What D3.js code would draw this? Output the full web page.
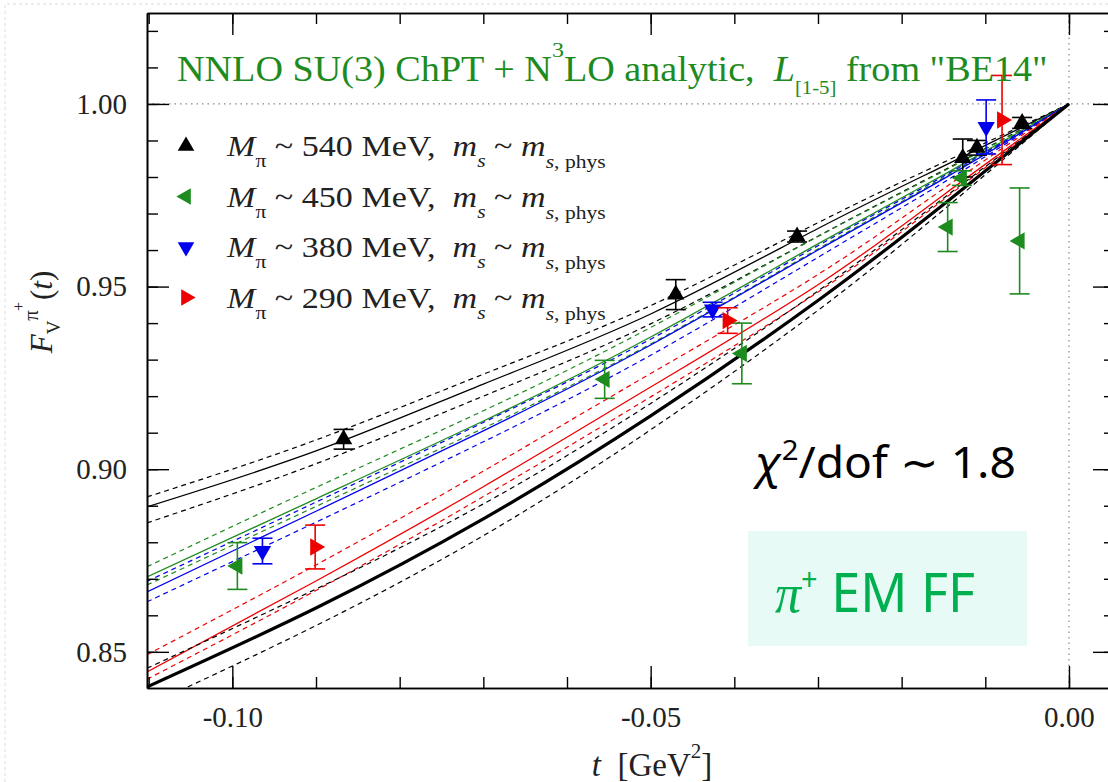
<!DOCTYPE html>
<html>
<head>
<meta charset="utf-8">
<script src="https://cdn.jsdelivr.net/npm/d3@7"></script>
<style>
  body { margin: 0; background: #fff; }
  text { white-space: pre; }
</style>
</head>
<body>
<svg id="chart" width="1108" height="782"></svg>
<script>
// t grid (GeV^2) the fit curves are read on
var tGrid = [-0.1102, -0.09, -0.07, -0.05, -0.03, -0.015, 0];

// fit curves: central value and error band edges
var fit540   = [0.8897, 0.9050, 0.9233, 0.9425, 0.9659, 0.9830, 1];
var fit540Hi = [0.8924, 0.9080, 0.9260, 0.9448, 0.9675, 0.9840, 1];
var fit540Lo = [0.8853, 0.9015, 0.9200, 0.9398, 0.9638, 0.9818, 1];
var fit450   = [0.8705, 0.8919, 0.9132, 0.9362, 0.9617, 0.9806, 1];
var fit450Hi = [0.8733, 0.8950, 0.9160, 0.9388, 0.9637, 0.9816, 1];
var fit450Lo = [0.8683, 0.8898, 0.9112, 0.9343, 0.9603, 0.9798, 1];
var fit380   = [0.8664, 0.8885, 0.9105, 0.9340, 0.9600, 0.9795, 1];
var fit380Hi = [0.8693, 0.8910, 0.9128, 0.9356, 0.9612, 0.9802, 1];
var fit380Lo = [0.8637, 0.8855, 0.9075, 0.9312, 0.9580, 0.9785, 1];
var fit290   = [0.8445, 0.8694, 0.8952, 0.9225, 0.9505, 0.9751, 1];
var fit290Hi = [0.8492, 0.8738, 0.8995, 0.9262, 0.9533, 0.9768, 1];
var fit290Lo = [0.8425, 0.8668, 0.8925, 0.9198, 0.9485, 0.9738, 1];
var fitPhys   = [0.8404, 0.8620, 0.8864, 0.9146, 0.9462, 0.9725, 1];
var fitPhysHi = [0.8455, 0.8672, 0.8905, 0.9180, 0.9488, 0.9742, 1];
var fitPhysLo = [0.8352, 0.8572, 0.8818, 0.9108, 0.9435, 0.9710, 1];

// lattice points: [t, F, error]
var pts540 = [[-0.0867, 0.9082, 0.0027], [-0.0470, 0.9478, 0.0041], [-0.0325, 0.9637, 0.0015],
              [-0.0127, 0.9852, 0.0052], [-0.0110, 0.9880, 0.0020], [-0.0056, 0.9948, 0.0015]];
var pts450 = [[-0.0994, 0.8735, 0.0064], [-0.0555, 0.9246, 0.0052], [-0.0391, 0.9317, 0.0083],
              [-0.0145, 0.9663, 0.0067], [-0.0128, 0.9797, 0.0020], [-0.0059, 0.9625, 0.0145]];
var pts380 = [[-0.0964, 0.8776, 0.0035], [-0.0426, 0.9437, 0.0020], [-0.0099, 0.9937, 0.0074]];
var pts290 = [[-0.0901, 0.8787, 0.0060], [-0.0408, 0.9407, 0.0035], [-0.0080, 0.9956, 0.0122]];

var legendLabels = ['540', '450', '380', '290'];
var xTickLabels = [-0.10, -0.05, 0.00];
var yTickLabels = [0.85, 0.90, 0.95, 1.00];

var GREEN = '#1e8b1e';
var serif = '"Liberation Serif", "DejaVu Serif", serif';

var svg = d3.select('#chart');

var x = d3.scaleLinear().domain([-0.1102, 0.0055]).range([147, 1115]);
var y = d3.scaleLinear().domain([0.8401, 1.0249]).range([688, 13]);

// faint slide border
svg.append('path').attr('d', 'M5,782V4H1108')
  .attr('fill', 'none').attr('stroke', '#dcdcdc').attr('stroke-dasharray', '3,3');

svg.append('clipPath').attr('id', 'plotclip')
  .append('rect').attr('x', 147).attr('y', 13).attr('width', 968).attr('height', 675);

// reference dotted lines
svg.append('line').attr('x1', x.range()[0]).attr('x2', x.range()[1]).attr('y1', y(1)).attr('y2', y(1))
  .attr('stroke', '#888').attr('stroke-width', 1.2).attr('stroke-dasharray', '1.5,4');
svg.append('line').attr('x1', x(0)).attr('x2', x(0)).attr('y1', y.range()[0]).attr('y2', y.range()[1])
  .attr('stroke', '#888').attr('stroke-width', 1.2).attr('stroke-dasharray', '1.5,4');

// curves
var line = d3.line().x(function(d) { return x(d[0]); }).y(function(d) { return y(d[1]); })
  .curve(d3.curveNatural);

var curves = [
  { v: fit540Hi, c: '#000', w: 1.2, dash: '5,4' },
  { v: fit540Lo, c: '#000', w: 1.2, dash: '5,4' },
  { v: fit540,   c: '#000', w: 1.3 },
  { v: fit450Hi, c: GREEN, w: 1.2, dash: '5,4' },
  { v: fit450Lo, c: GREEN, w: 1.2, dash: '5,4' },
  { v: fit450,   c: GREEN, w: 1.3 },
  { v: fit380Hi, c: '#0000ee', w: 1.2, dash: '5,4' },
  { v: fit380Lo, c: '#0000ee', w: 1.2, dash: '5,4' },
  { v: fit380,   c: '#0000ee', w: 1.3 },
  { v: fit290Hi, c: '#ee0000', w: 1.2, dash: '5,4' },
  { v: fit290Lo, c: '#ee0000', w: 1.2, dash: '5,4' },
  { v: fit290,   c: '#ee0000', w: 1.3 },
  { v: fitPhysHi, c: '#000', w: 1.2, dash: '5,4' },
  { v: fitPhysLo, c: '#000', w: 1.2, dash: '5,4' },
  { v: fitPhys,   c: '#000', w: 3.2 }
];

var curveG = svg.append('g').attr('clip-path', 'url(#plotclip)');
curves.forEach(function(cv) {
  curveG.append('path')
    .datum(tGrid.map(function(t, i) { return [t, cv.v[i]]; }))
    .attr('d', line)
    .attr('fill', 'none')
    .attr('stroke', cv.c)
    .attr('stroke-width', cv.w)
    .attr('stroke-dasharray', cv.dash || null);
});

// axes: ticks pointing inward on all four sides
function tickRange(a, b, step) {
  var out = [];
  for (var i = Math.round(a / step); i <= Math.round(b / step); i++) out.push(+(i * step).toFixed(4));
  return out;
}
var xMinor = tickRange(-0.11, 0.0, 0.01);
var yMinor = tickRange(0.85, 1.02, 0.01);
var yMajorAll = tickRange(0.85, 1.0, 0.05);
var fmt = function(d) { return d3.format('.2f')(d).replace('\u2212', '-'); };

function styleAxis(g) {
  g.select('.domain').attr('stroke', '#000').attr('stroke-width', 1.6);
  g.selectAll('.tick line').attr('stroke', '#000').attr('stroke-width', 1.4);
  g.selectAll('text').attr('font-family', serif).attr('font-size', 29).attr('fill', '#222');
}

svg.append('g').attr('transform', 'translate(0,688)')
  .call(d3.axisBottom(x).tickValues(xMinor).tickSize(-11).tickFormat('').tickSizeOuter(0)).call(styleAxis);
svg.append('g').attr('transform', 'translate(0,688)')
  .call(d3.axisBottom(x).tickValues(xTickLabels).tickSize(-22).tickPadding(18).tickSizeOuter(0)
    .tickFormat(fmt)).call(styleAxis);
svg.append('g').attr('transform', 'translate(0,13)')
  .call(d3.axisTop(x).tickValues(xMinor).tickSize(-11).tickFormat('').tickSizeOuter(0)).call(styleAxis);
svg.append('g').attr('transform', 'translate(0,13)')
  .call(d3.axisTop(x).tickValues(xTickLabels).tickSize(-22).tickFormat('').tickSizeOuter(0)).call(styleAxis);

svg.append('g').attr('transform', 'translate(147,0)')
  .call(d3.axisLeft(y).tickValues(yMinor).tickSize(-11).tickFormat('').tickSizeOuter(0)).call(styleAxis);
svg.append('g').attr('transform', 'translate(147,0)')
  .call(d3.axisLeft(y).tickValues(yTickLabels).tickSize(-22).tickPadding(20).tickSizeOuter(0)
    .tickFormat(fmt)).call(styleAxis);
svg.append('g').attr('transform', 'translate(1115,0)')
  .call(d3.axisRight(y).tickValues(yMinor).tickSize(-11).tickFormat('').tickSizeOuter(0)).call(styleAxis);
svg.append('g').attr('transform', 'translate(1115,0)')
  .call(d3.axisRight(y).tickValues(yMajorAll).tickSize(-22).tickFormat('').tickSizeOuter(0)).call(styleAxis);

// data points with error bars
var sets = [
  { pts: pts540, c: '#000', rot: 0 },
  { pts: pts450, c: GREEN, rot: -90 },
  { pts: pts380, c: '#0000ee', rot: 180 },
  { pts: pts290, c: '#ee0000', rot: 90 }
];
var tri = d3.symbol().type(d3.symbolTriangle).size(130);

sets.forEach(function(s) {
  var g = svg.append('g').attr('clip-path', 'url(#plotclip)');
  s.pts.forEach(function(p) {
    var cx = x(p[0]), top = y(p[1] + p[2]), bot = y(p[1] - p[2]);
    g.append('line').attr('x1', cx).attr('x2', cx).attr('y1', top).attr('y2', bot)
      .attr('stroke', s.c).attr('stroke-width', 1.6);
    [top, bot].forEach(function(yy) {
      g.append('line').attr('x1', cx - 10).attr('x2', cx + 10).attr('y1', yy).attr('y2', yy)
        .attr('stroke', s.c).attr('stroke-width', 1.6);
    });
    g.append('path').attr('d', tri)
      .attr('transform', 'translate(' + cx + ',' + y(p[1]) + ') rotate(' + s.rot + ')')
      .attr('fill', s.c);
  });
});

// rich text helper: parts = [{t, size, i, shift}]
function rich(parent, parts, baseSize, family, fill) {
  var txt = parent.append('text').attr('font-family', family).attr('fill', fill);
  var cur = 0;
  parts.forEach(function(p) {
    var s = p.shift || 0;
    var ts = txt.append('tspan').attr('dy', s - cur)
      .attr('font-size', p.size || baseSize)
      .attr('font-style', p.i ? 'italic' : 'normal')
      .text(p.t);
    if (p.family) ts.attr('font-family', p.family);
    if (p.dx) ts.attr('dx', p.dx);
    cur = s;
  });
  return txt;
}
function fitWidth(txt, x0, y0, width) {
  var w = txt.node().getBBox().width;
  txt.attr('transform', 'translate(' + x0 + ',' + y0 + ') scale(' + (width / w) + ',1)');
}

// title
var title = rich(svg, [
  { t: 'NNLO SU(3) ChPT + N' },
  { t: '3', size: 22, shift: -24 },
  { t: 'LO analytic,  ' },
  { t: 'L', i: true },
  { t: '[1-5]', size: 19, shift: 13 },
  { t: ' from "BE14"' }
], 35, serif, GREEN);
fitWidth(title, 177, 81, 871);

// legend
sets.forEach(function(s, i) {
  var ly = 146 + i * 50.5;
  svg.append('path').attr('d', d3.symbol().type(d3.symbolTriangle).size(120))
    .attr('transform', 'translate(186,' + ly + ') rotate(' + s.rot + ')')
    .attr('fill', s.c);
  var lt = rich(svg, [
    { t: 'M', i: true },
    { t: 'π', size: 19, shift: 11 },
    { t: ' ~ ' + legendLabels[i] + ' MeV,  ' },
    { t: 'm', i: true },
    { t: 's', i: true, size: 19, shift: 11 },
    { t: ' ~ ' },
    { t: 'm', i: true },
    { t: 's', i: true, size: 19, shift: 12 },
    { t: ', phys', size: 19, shift: 12 }
  ], 30, serif, '#222');
  fitWidth(lt, 227, ly + 10, 380);
});

// y axis label
rich(svg.append('g').attr('transform', 'translate(52,312) rotate(-90)'), [
  { t: 'F', i: true },
  { t: 'V', size: 19, shift: 8 },
  { t: 'π', size: 21, shift: -14 },
  { t: '+', size: 16, shift: -28, dx: -1 },
  { t: '(', shift: 0, dx: 2 },
  { t: 't', i: true },
  { t: ')' }
], 31, serif, '#222').attr('text-anchor', 'middle');

// x axis label
var xl = rich(svg, [
  { t: 't', i: true },
  { t: '  [GeV' },
  { t: '2', size: 21, shift: -18 },
  { t: ']', shift: 0 }
], 33, serif, '#222').attr('text-anchor', 'middle');
xl.attr('transform', 'translate(652,776)');

// chi^2 annotation
var sans = '"Noto Sans", "Open Sans", sans-serif';
var chi = rich(svg, [
  { t: 'χ', i: true },
  { t: '2', size: 28, shift: -18 },
  { t: '/dof ', shift: 0 },
  { t: '∼', family: '"DejaVu Sans", sans-serif' },
  { t: ' 1.8' }
], 44, sans, '#000');
fitWidth(chi, 755, 478, 263);

// pi+ EM FF box
svg.append('rect').attr('x', 748).attr('y', 531).attr('width', 279).attr('height', 115)
  .attr('fill', '#e7faf6');
var ff = rich(svg, [
  { t: 'π', i: true, family: serif },
  { t: '+', size: 30, shift: -22 },
  { t: ' EM FF', shift: 0 }
], 54, sans, '#00b050');
fitWidth(ff, 775, 612, 200);
</script>
</body>
</html>
